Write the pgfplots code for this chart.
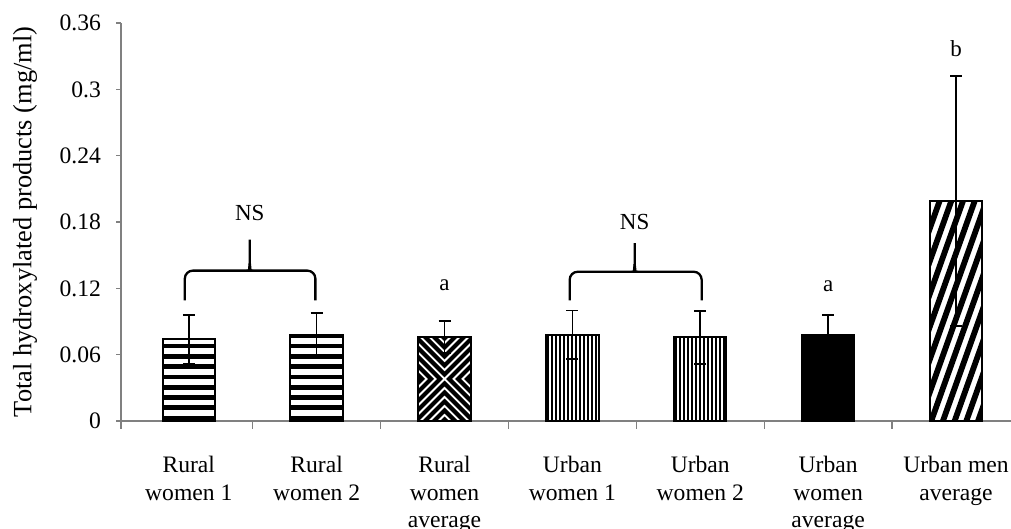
\documentclass[border=0pt]{standalone}
\usepackage{fontspec}
\setmainfont{Liberation Serif}
\usepackage{pgfplots}
\usepackage{pgfplotstable}
\pgfplotsset{compat=1.18}

\newcommand\ppsw{\pgfpointanchor{path picture bounding box}{south west}}
\newcommand\ppc{\pgfpointanchor{path picture bounding box}{center}}
\newcommand\seg[4]{\pgfpathmoveto{\pgfpoint{#1}{#2}}\pgfpathlineto{\pgfpoint{#3}{#4}}}

\tikzset{
  hstripes/.style={path picture={
    \pgfsetlinewidth{2.4pt}\pgfsetstrokecolor{black}
    \pgftransformshift{\ppsw}
    \foreach \k in {0,...,30}{
      \seg{-2pt}{\k*5.15pt+1.4pt}{40pt}{\k*5.15pt+1.4pt}\pgfusepath{stroke}
    }}},
  vstripes/.style={path picture={
    \pgfsetlinewidth{0.9pt}\pgfsetstrokecolor{black}
    \pgftransformshift{\ppsw}
    \foreach \k in {0,...,16}{
      \seg{\k*2pt+1pt}{-2pt}{\k*2pt+1pt}{130pt}\pgfusepath{stroke}
    }}},
  dstripes/.style={path picture={
    \pgfsetlinewidth{2.9pt}\pgfsetstrokecolor{black}
    \pgftransformshift{\ppsw}
    \foreach \k in {-10,...,7}{
      \seg{\k*5.85pt}{-2pt}{\k*5.85pt+46pt}{126.8pt}\pgfusepath{stroke}
    }}},
  xpattern/.style={path picture={
    \pgfsetlinewidth{2.1pt}\pgfsetstrokecolor{black}
    \pgftransformshift{\ppc}
    \foreach \k in {0,...,12}{
      \pgfmathsetmacro\d{(\k+0.5)*4.5}
      \pgfpathmoveto{\pgfpoint{\d pt+60pt}{60pt}}\pgfpathlineto{\pgfpoint{\d pt}{0pt}}\pgfpathlineto{\pgfpoint{\d pt+60pt}{-60pt}}\pgfusepath{stroke}
      \pgfpathmoveto{\pgfpoint{-\d pt-60pt}{60pt}}\pgfpathlineto{\pgfpoint{-\d pt}{0pt}}\pgfpathlineto{\pgfpoint{-\d pt-60pt}{-60pt}}\pgfusepath{stroke}
      \pgfpathmoveto{\pgfpoint{-60pt}{\d pt+60pt}}\pgfpathlineto{\pgfpoint{0pt}{\d pt}}\pgfpathlineto{\pgfpoint{60pt}{\d pt+60pt}}\pgfusepath{stroke}
      \pgfpathmoveto{\pgfpoint{-60pt}{-\d pt-60pt}}\pgfpathlineto{\pgfpoint{0pt}{-\d pt}}\pgfpathlineto{\pgfpoint{60pt}{-\d pt-60pt}}\pgfusepath{stroke}
    }}},
}

\pgfplotstableread{
x  y      e
0  0.074  0.022
1  0.078  0.020
2  0.076  0.0145
3  0.078  0.022
4  0.0757 0.024
5  0.078  0.018
6  0.199  0.113
}\datatable

\begin{document}
\begin{tikzpicture}
\begin{axis}[
  at={(0,0)}, anchor=south west,
  scale only axis, width=445pt, height=199pt,
  xmin=-0.53, xmax=6.43, ymin=0, ymax=0.36,
  ybar,
  axis x line*=bottom, axis y line*=left,
  axis line style={black!50, line width=0.65pt},
  ytick={0,0.06,0.12,0.18,0.24,0.3,0.36},
  yticklabels={0,0.06,0.12,0.18,0.24,0.3,0.36},
  yticklabel style={font=\fontsize{11.8}{13}\selectfont, anchor=east, xshift=-4pt},
  xtick={0,1,2,3,4,5,6},
  xticklabels={Rural\\women 1, Rural\\women 2, Rural\\women\\average, Urban\\women 1, Urban\\women 2, Urban\\women\\average, Urban men\\average},
  xticklabel style={font=\fontsize{11.8}{13.8}\selectfont, align=center, anchor=north, yshift=-11.5pt},
  minor xtick={-0.53,0.5,1.5,2.5,3.5,4.5,5.5},
  tick align=outside,
  major tick length=2.5pt,
  minor tick length=4pt,
  major x tick style={draw=none},
  minor x tick style={black!50, line width=0.65pt},
  major y tick style={black!50, line width=0.65pt},
  ylabel={Total hydroxylated products (mg/ml)},
  ylabel style={font=\fontsize{13.2}{14}\selectfont, at={(axis description cs:0,0.5)}, anchor=center, yshift=48pt},
  clip=false,
]
\pgfplotsset{patbar/.style={bar width=0.41, bar shift=0pt, draw=none, fill=white}}

\addplot[patbar, hstripes, restrict x to domain=-0.1:0.1] table[x=x, y=y] {\datatable};
\addplot[patbar, hstripes, restrict x to domain=0.9:1.1] table[x=x, y=y] {\datatable};
\addplot[patbar, xpattern, restrict x to domain=1.9:2.1] table[x=x, y=y] {\datatable};
\addplot[patbar, vstripes, restrict x to domain=2.9:3.1] table[x=x, y=y] {\datatable};
\addplot[patbar, vstripes, restrict x to domain=3.9:4.1] table[x=x, y=y] {\datatable};
\addplot[patbar, fill=black, restrict x to domain=4.9:5.1] table[x=x, y=y] {\datatable};
\addplot[patbar, dstripes, restrict x to domain=5.9:6.1] table[x=x, y=y] {\datatable};

\addplot[bar width=0.41, bar shift=0pt, draw=black, fill=none, line width=1pt,
  error bars/.cd, y dir=both, y explicit,
  error bar style={black, line width=0.85pt},
  error mark options={rotate=90, black, line width=0.9pt, mark size=3pt}]
  table[x=x, y=y, y error=e] {\datatable};

\draw[black, line width=1.15pt, rounded corners=4pt] (axis cs:-0.031,0.109) |- (axis cs:0.43,0.136) [sharp corners] to[out=0,in=-90] (axis cs:0.477,0.143) -- (axis cs:0.477,0.164);
\draw[black, line width=1.15pt, rounded corners=4pt] (axis cs:0.99,0.109) |- (axis cs:0.524,0.136) [sharp corners] to[out=180,in=-90] (axis cs:0.477,0.143);
\draw[black, line width=1.15pt, rounded corners=4pt] (axis cs:2.979,0.109) |- (axis cs:3.44,0.135) [sharp corners] to[out=0,in=-90] (axis cs:3.487,0.142) -- (axis cs:3.487,0.161);
\draw[black, line width=1.15pt, rounded corners=4pt] (axis cs:4.011,0.109) |- (axis cs:3.534,0.135) [sharp corners] to[out=180,in=-90] (axis cs:3.487,0.142);

\node[font=\fontsize{11.5}{12}\selectfont] at (axis cs:0.477,0.188) {NS};
\node[font=\fontsize{11.5}{12}\selectfont] at (axis cs:3.487,0.180) {NS};
\node[font=\fontsize{11.5}{12}\selectfont] at (axis cs:2,0.123) {a};
\node[font=\fontsize{11.5}{12}\selectfont] at (axis cs:5,0.122) {a};
\node[font=\fontsize{11.5}{12}\selectfont] at (axis cs:6,0.337) {b};
\end{axis}
\pgfresetboundingbox
\useasboundingbox (-60.5pt,-54pt) rectangle (445pt,210.5pt);
\end{tikzpicture}
\end{document}
